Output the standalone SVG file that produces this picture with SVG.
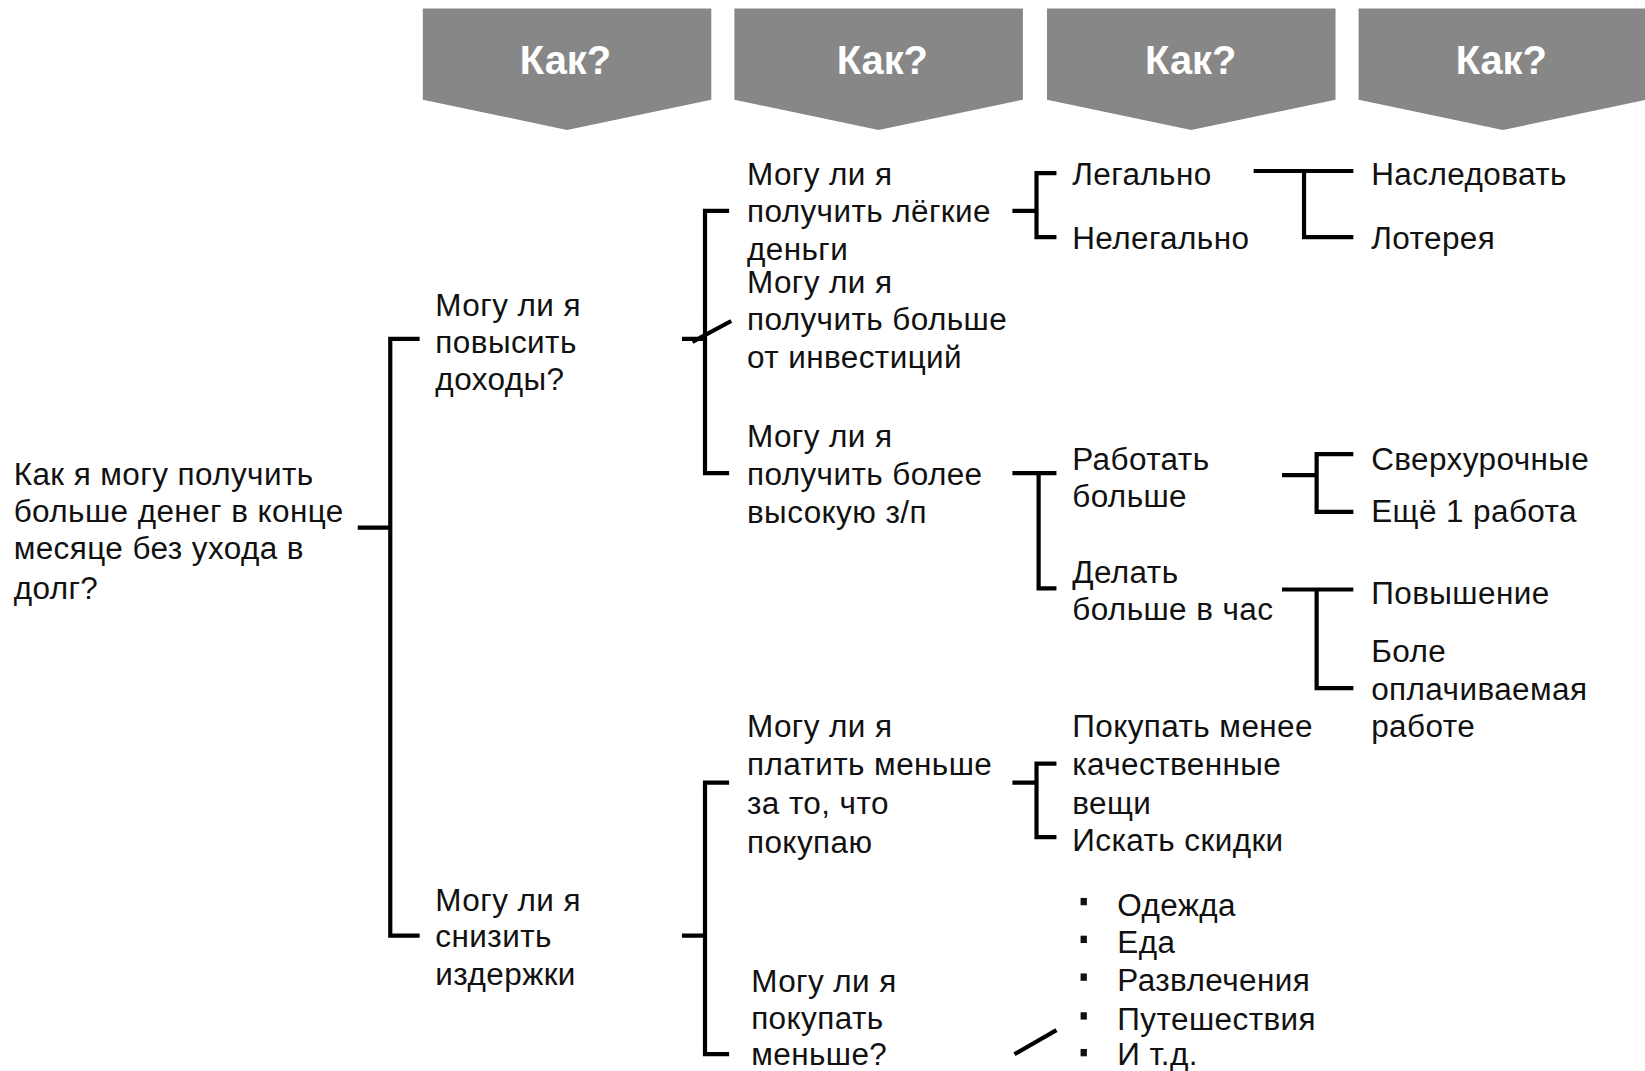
<svg xmlns="http://www.w3.org/2000/svg" width="1645" height="1071" viewBox="0 0 1645 1071">
<style>
.hdr{fill:#878787}
.ht{fill:#fff;font-family:"Liberation Sans",Arial,sans-serif;font-weight:bold;font-size:38px;text-anchor:middle}
.t{fill:#111;font-family:"Liberation Sans",Arial,sans-serif;font-size:30px;letter-spacing:0.4px}
.c{stroke:#000;stroke-width:4;fill:none}
.b{fill:#111}
</style>
<rect width="1645" height="1071" fill="#fff"/>
<g transform="scale(1.04911 1.04897)">
<g id="headers">
<g id="h1"><polygon class="hdr" points="403,8 678,8 678,95 540.5,124 403,95"/><text class="ht" x="539" y="71">Как?</text></g>
<g id="h2"><polygon class="hdr" points="700,8 975,8 975,95 837.5,124 700,95"/><text class="ht" x="841" y="71">Как?</text></g>
<g id="h3"><polygon class="hdr" points="998,8 1273,8 1273,95 1135.5,124 998,95"/><text class="ht" x="1135" y="71">Как?</text></g>
<g id="h4"><polygon class="hdr" points="1295,8 1570,8 1570,95 1432.5,124 1295,95"/><text class="ht" x="1431" y="71">Как?</text></g>
</g>
<g id="connectors">
<path class="c" d="M341 503H372M400 323H372V892H400"/>
<path class="c" d="M650 323H672M695 201H672V451H695M660 326L697 306"/>
<path class="c" d="M650 892H672M695 746H672V1005H695"/>
<path class="c" d="M965 201H988M1007 165H988V226H1007"/>
<path class="c" d="M1195 163H1290M1243 163V226H1290"/>
<path class="c" d="M965 451H1007M990 451V561H1007"/>
<path class="c" d="M1222 453H1255M1290 433H1255V488H1290"/>
<path class="c" d="M1222 562H1290M1255 562V656H1290"/>
<path class="c" d="M965 746H988M1007 728H988V798H1007"/>
<path class="c" d="M967 1005L1007 982"/>
</g>
<g id="root"><text class="t" x="13"><tspan x="13" y="462">Как я могу получить</tspan><tspan x="13" y="498">больше денег в конце</tspan><tspan x="13" y="533">месяце без ухода в</tspan><tspan x="13" y="571">долг?</tspan></text></g>
<g id="n-income"><text class="t"><tspan x="415" y="301">Могу ли я</tspan><tspan x="415" y="337">повысить</tspan><tspan x="415" y="372">доходы?</tspan></text></g>
<g id="n-costs"><text class="t"><tspan x="415" y="868">Могу ли я</tspan><tspan x="415" y="903">снизить</tspan><tspan x="415" y="939">издержки</tspan></text></g>
<g id="n-easy"><text class="t"><tspan x="712" y="176">Могу ли я</tspan><tspan x="712" y="212">получить лёгкие</tspan><tspan x="712" y="248">деньги</tspan></text></g>
<g id="n-invest"><text class="t"><tspan x="712" y="279">Могу ли я</tspan><tspan x="712" y="315">получить больше</tspan><tspan x="712" y="351">от инвестиций</tspan></text></g>
<g id="n-salary"><text class="t"><tspan x="712" y="426">Могу ли я</tspan><tspan x="712" y="462">получить более</tspan><tspan x="712" y="499">высокую з/п</tspan></text></g>
<g id="n-payless"><text class="t"><tspan x="712" y="703">Могу ли я</tspan><tspan x="712" y="739">платить меньше</tspan><tspan x="712" y="776">за то, что</tspan><tspan x="712" y="813">покупаю</tspan></text></g>
<g id="n-buyless"><text class="t"><tspan x="716" y="946">Могу ли я</tspan><tspan x="716" y="981">покупать</tspan><tspan x="716" y="1015">меньше?</tspan></text></g>
<g id="n-legal"><text class="t" x="1022" y="176">Легально</text></g>
<g id="n-illegal"><text class="t" x="1022" y="237">Нелегально</text></g>
<g id="n-workmore"><text class="t"><tspan x="1022" y="448">Работать</tspan><tspan x="1022" y="483">больше</tspan></text></g>
<g id="n-perhour"><text class="t"><tspan x="1022" y="556">Делать</tspan><tspan x="1022" y="591">больше в час</tspan></text></g>
<g id="n-cheaper"><text class="t"><tspan x="1022" y="703">Покупать менее</tspan><tspan x="1022" y="739">качественные</tspan><tspan x="1022" y="776">вещи</tspan></text></g>
<g id="n-discount"><text class="t" x="1022" y="811">Искать скидки</text></g>
<g id="n-list">
<rect class="b" x="1030" y="856" width="6" height="7"/><text class="t" x="1065" y="873">Одежда</text>
<rect class="b" x="1030" y="892" width="6" height="7"/><text class="t" x="1065" y="909">Еда</text>
<rect class="b" x="1030" y="928" width="6" height="7"/><text class="t" x="1065" y="945">Развлечения</text>
<rect class="b" x="1030" y="965" width="6" height="7"/><text class="t" x="1065" y="982">Путешествия</text>
<rect class="b" x="1030" y="1000" width="6" height="7"/><text class="t" x="1065" y="1015">И т.д.</text>
</g>
<g id="n-inherit"><text class="t" x="1307" y="176">Наследовать</text></g>
<g id="n-lottery"><text class="t" x="1307" y="237">Лотерея</text></g>
<g id="n-overtime"><text class="t" x="1307" y="448">Сверхурочные</text></g>
<g id="n-secondjob"><text class="t" x="1307" y="498">Ещё 1 работа</text></g>
<g id="n-promo"><text class="t" x="1307" y="576">Повышение</text></g>
<g id="n-betterjob"><text class="t"><tspan x="1307" y="631">Боле</tspan><tspan x="1307" y="667">оплачиваемая</tspan><tspan x="1307" y="703">работе</tspan></text></g>
</g>
</svg>
